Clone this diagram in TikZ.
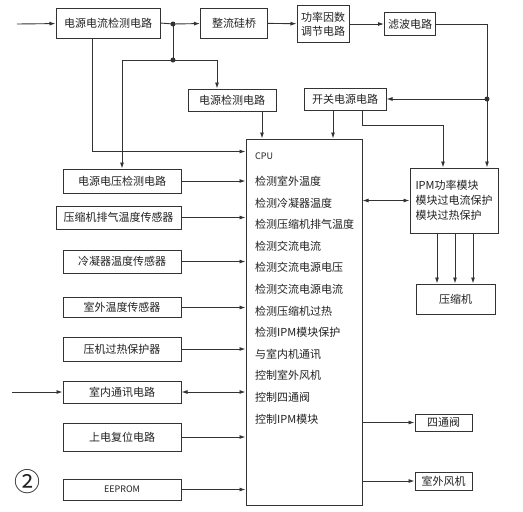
\documentclass[tikz,border=0pt]{standalone}
\usepackage{fontspec}
\newfontfamily\cjk{Noto Sans CJK SC}
\usepackage{tikz}
\usetikzlibrary{positioning,arrows.meta,calc}
\definecolor{DiagLine}{HTML}{333333}
\definecolor{DiagText}{HTML}{222222}

\begin{document}
\begin{tikzpicture}[x=1pt,y=-1pt,>={Latex[length=6pt,width=4pt]},
 blk/.style={draw=DiagLine,line width=1pt,minimum width=118pt,inner sep=1pt,align=center,text=DiagText,font=\cjk\fontsize{11}{14}\selectfont},
 wire/.style={draw=DiagLine,line width=0.9pt},
 dot/.style={fill=DiagLine}]
\useasboundingbox[fill=white] (0,0) rectangle (523,512);
% top row
\node[blk,minimum width=104pt,minimum height=30pt] (curdet) at (108,23) {电源电流检测电路};
\node[blk,minimum width=67pt,minimum height=30pt] (bridge) at (234,23) {整流硅桥};
\node[blk,minimum width=52pt,minimum height=37pt] (pfc) at (323,24) {功率因数\\调节电路};
\node[blk,minimum width=51pt,minimum height=23pt] (filt) at (410,24) {滤波电路};
\node[blk,minimum width=88pt,minimum height=22pt] (pwrdet) at (232,100) {电源检测电路};
\node[blk,minimum width=82pt,minimum height=22pt] (smps) at (345,99) {开关电源电路};
% cpu
\node[blk,minimum width=116pt,minimum height=366pt] (cpu) at (304,322) {};
\node[anchor=north west,align=left,inner sep=0pt,text=DiagText,font=\cjk\fontsize{11}{21.6}\selectfont] (cpulist) at (255,153)
 {{\fontsize{9}{9}\selectfont CPU}\\[4pt]检测室外温度\\检测冷凝器温度\\检测压缩机排气温度\\检测交流电流\\检测交流电源电压\\检测交流电源电流\\检测压缩机过热\\检测IPM模块保护\\与室内机通讯\\控制室外风机\\控制四通阀\\控制IPM模块};
% right side
\node[blk,minimum width=88pt,minimum height=65pt,align=left,font=\cjk\fontsize{11}{15}\selectfont] (ipm) at (454,200.5) {IPM功率模块\\模块过电流保护\\模块过热保护};
\node[blk,minimum width=79pt,minimum height=30pt] (comp) at (455.5,299) {压缩机};
\node[blk,minimum width=57pt,minimum height=17pt] (valve) at (443.5,422.5) {四通阀};
\node[blk,minimum width=57pt,minimum height=18pt] (fan) at (443.5,481) {室外风机};
% left column
\node[blk,minimum height=24pt] (voltdet) at (122,181) {电源电压检测电路};
\node[blk,minimum width=125pt,minimum height=23pt] (exhaust) at (118.5,217.5) {压缩机排气温度传感器};
\node[blk,minimum height=23pt] (cond) at (122,261.5) {冷凝器温度传感器};
\node[blk,minimum height=20pt] (outdoor) at (122,307.5) {室外温度传感器};
\node[blk,minimum height=24pt] (ovh) at (122,349) {压机过热保护器};
\node[blk,minimum height=22pt] (comm) at (122,392) {室内通讯电路};
\node[blk,minimum height=28pt] (reset) at (122,437) {上电复位电路};
\node[blk,minimum height=21pt,font=\cjk\fontsize{9}{9}\selectfont] (eeprom) at (122,489.5) {EEPROM};
\node[text=DiagText,font=\cjk\fontsize{26}{26}\selectfont] (fignum) at (28,482) {②};
% junctions
\coordinate (in1) at (17,24);
\coordinate (in2) at (12,392);
\coordinate (j1) at (173,24);
\coordinate (j2) at (173,60);
\coordinate (j3) at (487,99);
\fill[dot] (j1) circle (2.5pt);
\fill[dot] (j2) circle (2.5pt);
\fill[dot] (j3) circle (2.5pt);
% power path
\draw[wire,->] (in1) -- (curdet);
\draw[wire] (curdet.east) -- (j1);
\draw[wire,->] (j1) -- (bridge);
\draw[wire,->] (bridge) -- (pfc);
\draw[wire,->] (pfc) -- (filt);
\draw[wire] (filt.east) -| (j3);
\draw[wire,->] (j3) -- (smps.east);
\draw[wire,->] (j3) -- (j3 |- ipm.north);
\draw[wire] (j1) -- (j2);
\draw[wire,->] (j2) -| (voltdet.north);
\draw[wire,->] (j2) -| ([xshift=-15pt]pwrdet.north);
\draw[wire,->] ([xshift=-16pt]curdet.south) |- ([yshift=-13pt]cpu.north west);
\draw[wire,->] ([xshift=30pt]pwrdet.south) -- ([xshift=30pt]pwrdet.south |- cpu.north);
\draw[wire,->] ([xshift=-12pt]smps.south) -- ([xshift=-12pt]smps.south |- cpu.north);
\draw[wire,->] ([xshift=17pt]smps.south) -- ++(0,15) -| ([xshift=-11pt]ipm.north);
% cpu links
\draw[wire,<->] (ipm.west -| cpu.east) -- (ipm.west);
\foreach \dx in {-17,1,19}
  \draw[wire,->] ([xshift=\dx pt]ipm.south) -- ([xshift=\dx pt]ipm.south |- comp.north);
\foreach \n in {voltdet,exhaust,cond,outdoor,ovh,reset,eeprom}
  \draw[wire,->] (\n.east) -- (\n.east -| cpu.west);
\draw[wire,<->] (comm.east) -- (comm.east -| cpu.west);
\draw[wire,->] (in2) -- (comm.west);
\draw[wire,->] (valve.west -| cpu.east) -- (valve.west);
\draw[wire,->] (fan.west -| cpu.east) -- (fan.west);
\end{tikzpicture}
\end{document}
